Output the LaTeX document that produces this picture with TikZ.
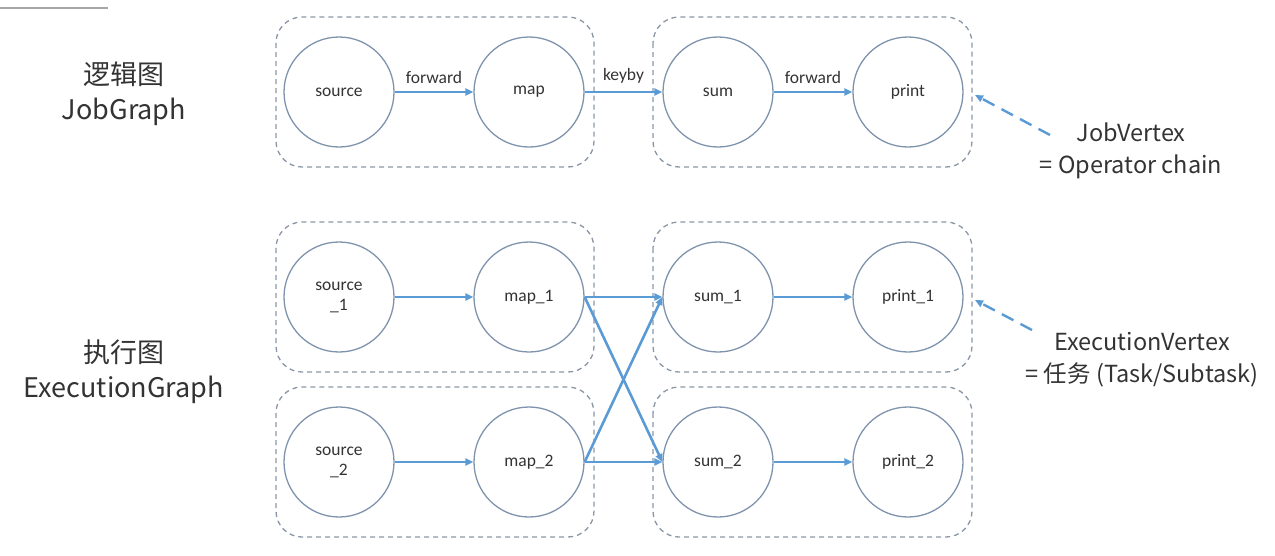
\documentclass[tikz,border=0pt]{standalone}
\usepackage{fontspec}
\setmainfont{Carlito}
\newfontfamily\cjk{Noto Sans CJK SC}
\usetikzlibrary{arrows.meta}
\definecolor{circ}{HTML}{7F93AC}
\definecolor{arr}{HTML}{5B9BD5}
\definecolor{dbox}{HTML}{8A96A6}
\definecolor{txt}{HTML}{333333}
\tikzset{
  opnode/.style={circle, draw=circ, line width=1.3pt, minimum size=110pt, inner sep=0pt, align=center, font=\fontsize{17.5}{20}\selectfont, text=txt},
  chainbox/.style={draw=dbox, line width=1.3pt, dash pattern=on 5pt off 4pt, rounded corners=26pt},
  flow/.style={draw=arr, line width=2.6pt, -{Triangle[length=8pt,width=7pt]}},
  elabel/.style={font=\fontsize{17.5}{20}\selectfont, text=txt},
  biglabel/.style={font=\cjk\fontsize{27}{35}\selectfont, text=txt, align=center},
  notelabel/.style={font=\cjk\fontsize{23.5}{32}\selectfont, text=txt, align=center},
  pointer/.style={draw=arr, line width=2.4pt, dash pattern=on 13pt off 8pt, -{Triangle[length=8pt,width=7pt]}}
}
\begin{document}
\begin{tikzpicture}[x=1pt,y=-1pt]
\useasboundingbox (0,0) rectangle (1275,555);
\draw[gray!70, line width=1.5pt] (0,8) -- (108,8);
% boxes
\draw[chainbox] (276,17) rectangle (594,167);
\draw[chainbox] (653,17) rectangle (972,167);
\draw[chainbox] (276,222) rectangle (594,372);
\draw[chainbox] (653,222) rectangle (972,372);
\draw[chainbox] (276,387) rectangle (594,537);
\draw[chainbox] (653,387) rectangle (972,537);
% top row
\node[opnode] (src) at (339,92) {source};
\node[opnode] (map) at (529,92) {map};
\node[opnode] (sum) at (718,92) {sum};
\node[opnode] (prt) at (908,92) {print};
\draw[flow] (src) -- node[elabel, above=4pt] {forward} (map);
\draw[flow] (map) -- node[elabel, above=4pt] {keyby} (sum);
\draw[flow] (sum) -- node[elabel, above=4pt] {forward} (prt);
% execution graph
\node[opnode] (src1) at (339,297) {source\\\_1};
\node[opnode] (map1) at (529,297) {map\_1};
\node[opnode] (sum1) at (718,297) {sum\_1};
\node[opnode] (prt1) at (908,297) {print\_1};
\node[opnode] (src2) at (339,462) {source\\\_2};
\node[opnode] (map2) at (529,462) {map\_2};
\node[opnode] (sum2) at (718,462) {sum\_2};
\node[opnode] (prt2) at (908,462) {print\_2};
\draw[flow] (src1) -- (map1);
\draw[flow] (src2) -- (map2);
\draw[flow] (map1.east) -- (sum1.west);
\draw[flow] (map2.east) -- (sum2.west);
\draw[flow] (map1.east) -- (sum2.west);
\draw[flow] (map2.east) -- (sum1.west);
\draw[flow] (sum1) -- (prt1);
\draw[flow] (sum2) -- (prt2);
% left labels
\node[biglabel] (jg) at (124,94) {逻辑图\\JobGraph};
\node[biglabel] (eg) at (124,372) {执行图\\ExecutionGraph};
% notes
\node[notelabel] (jv) at (1131,151) {JobVertex\\= Operator chain};
\node[notelabel] (ev) at (1142,360) {ExecutionVertex\\= 任务 (Task/Subtask)};
\coordinate (jvp) at (1050,135);
\coordinate (jvt) at (975,95);
\coordinate (evp) at (1032,330);
\coordinate (evt) at (975,300);
\draw[pointer] (jvp) -- (jvt);
\draw[pointer] (evp) -- (evt);
\end{tikzpicture}
\end{document}
